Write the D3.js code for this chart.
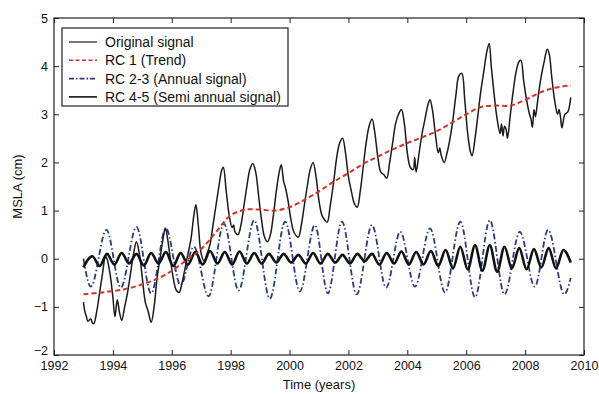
<!DOCTYPE html>
<html><head><meta charset="utf-8">
<script src="https://cdn.jsdelivr.net/npm/d3@7"></script>
<style>
body{margin:0;background:#fff;}
svg text{font-family:"Liberation Sans",Arial,sans-serif;fill:#111;}
</style></head>
<body><svg id="c" width="599" height="394"></svg>
<script>
// ---- data ----
const xTicks = [1992,1994,1996,1998,2000,2002,2004,2006,2008,2010];
const yTicks = [-2,-1,0,1,2,3,4,5];

const origTime = [1993.0,1993.05,1993.1,1993.15,1993.25,1993.3,1993.35,1993.45,1993.55,1993.65,1993.75,1993.8,1993.9,1994.0,1994.07,1994.15,1994.22,1994.3,1994.4,1994.5,1994.6,1994.7,1994.8,1994.9,1995.0,1995.1,1995.2,1995.3,1995.4,1995.5,1995.6,1995.7,1995.78,1995.85,1995.95,1996.05,1996.15,1996.25,1996.35,1996.45,1996.55,1996.65,1996.75,1996.82,1996.9,1997.0,1997.1,1997.2,1997.3,1997.4,1997.5,1997.6,1997.7,1997.75,1997.85,1997.95,1998.05,1998.1,1998.15,1998.25,1998.35,1998.45,1998.55,1998.65,1998.75,1998.85,1998.95,1999.05,1999.15,1999.25,1999.35,1999.45,1999.55,1999.65,1999.72,1999.8,1999.85,1999.95,2000.05,2000.15,2000.3,2000.4,2000.5,2000.6,2000.7,2000.8,2000.9,2001.0,2001.1,2001.2,2001.28,2001.38,2001.5,2001.6,2001.7,2001.8,2001.9,2002.0,2002.1,2002.2,2002.3,2002.4,2002.5,2002.6,2002.7,2002.8,2002.9,2003.0,2003.1,2003.2,2003.3,2003.4,2003.5,2003.6,2003.7,2003.8,2003.9,2004.0,2004.1,2004.2,2004.25,2004.3,2004.4,2004.5,2004.6,2004.7,2004.77,2004.85,2004.95,2005.05,2005.1,2005.15,2005.25,2005.35,2005.45,2005.55,2005.65,2005.75,2005.85,2005.95,2006.05,2006.15,2006.2,2006.3,2006.4,2006.5,2006.6,2006.7,2006.78,2006.85,2006.95,2007.05,2007.15,2007.2,2007.25,2007.3,2007.35,2007.4,2007.5,2007.6,2007.7,2007.8,2007.86,2007.95,2008.05,2008.15,2008.2,2008.25,2008.3,2008.35,2008.4,2008.45,2008.55,2008.65,2008.75,2008.82,2008.9,2009.0,2009.1,2009.15,2009.2,2009.25,2009.35,2009.45,2009.55];
const origValue = [-0.9,-1.1,-1.2,-1.3,-1.25,-1.33,-1.35,-1.1,-0.7,-0.3,0.05,0.0,-0.3,-0.8,-1.2,-0.85,-1.1,-1.28,-1.0,-0.7,-0.3,0.1,0.35,0.1,-0.4,-0.9,-1.1,-1.32,-1.0,-0.4,0.0,0.4,0.64,0.45,0.0,-0.4,-0.65,-0.7,-0.5,-0.2,0.1,0.4,0.9,1.12,0.7,0.1,-0.05,0.1,0.3,0.7,1.1,1.5,1.85,1.9,1.4,0.9,0.65,0.7,0.55,0.5,0.7,1.1,1.5,1.85,1.98,1.8,1.3,0.8,0.45,0.35,0.5,0.9,1.4,1.8,1.95,1.6,1.5,1.2,0.8,0.55,0.45,0.7,1.1,1.5,1.85,2.0,1.7,1.2,0.9,0.8,0.76,1.1,1.6,2.1,2.4,2.5,2.2,1.7,1.4,1.15,1.07,1.4,1.9,2.4,2.75,2.9,2.6,2.1,1.8,1.75,1.67,2.0,2.4,2.8,3.0,3.1,2.8,2.2,1.9,1.85,2.1,1.8,2.2,2.6,2.9,3.2,3.3,3.1,2.6,2.2,2.3,2.15,2.0,2.2,2.5,2.9,3.4,3.8,3.85,3.3,2.6,2.2,2.14,2.5,3.0,3.5,3.9,4.3,4.47,4.0,3.4,2.9,2.6,2.8,2.55,2.75,2.7,2.5,3.0,3.5,3.9,4.1,4.12,3.7,3.3,3.0,2.9,2.73,3.1,2.95,3.15,3.4,3.8,4.1,4.35,4.25,3.8,3.3,3.0,3.1,2.95,2.72,3.0,3.05,3.35];

const trendTime = [1993.0,1993.5,1994.0,1994.5,1995.0,1995.5,1996.0,1996.5,1997.0,1997.5,1998.0,1998.5,1999.0,1999.5,2000.0,2000.5,2001.0,2001.5,2002.0,2002.5,2003.0,2003.5,2004.0,2004.5,2005.0,2005.5,2006.0,2006.5,2007.0,2007.5,2008.0,2008.5,2009.0,2009.55];
const trendValue = [-0.74,-0.71,-0.67,-0.62,-0.53,-0.42,-0.25,-0.03,0.2,0.55,0.9,1.02,1.02,1.0,1.07,1.22,1.4,1.6,1.78,1.97,2.12,2.27,2.4,2.52,2.65,2.82,3.0,3.15,3.18,3.18,3.3,3.45,3.55,3.6];

const annualTime = [1993.0,1993.25,1993.78,1994.27,1994.8,1995.3,1995.8,1996.3,1996.75,1997.25,1997.77,1998.27,1998.8,1999.33,1999.85,2000.35,2000.86,2001.3,2001.78,2002.28,2002.8,2003.28,2003.76,2004.26,2004.77,2005.28,2005.8,2006.3,2006.8,2007.3,2007.82,2008.33,2008.78,2009.33,2009.55];
const annualValue = [0.0,-0.58,0.6,-0.6,0.66,-0.72,0.63,-0.55,0.25,-0.78,0.73,-0.66,0.8,-0.83,0.77,-0.68,0.7,-0.72,0.77,-0.74,0.7,-0.6,0.56,-0.58,0.63,-0.7,0.77,-0.8,0.8,-0.74,0.56,-0.58,0.6,-0.74,-0.4];

const semiTime = [1993.0,1993.3,1993.55,1993.8,1994.05,1994.3,1994.55,1994.8,1995.05,1995.3,1995.55,1995.8,1996.05,1996.3,1996.55,1996.8,1997.05,1997.3,1997.55,1997.8,1998.05,1998.3,1998.55,1998.8,1999.05,1999.3,1999.55,1999.8,2000.05,2000.3,2000.55,2000.8,2001.05,2001.3,2001.55,2001.8,2002.05,2002.3,2002.55,2002.8,2003.05,2003.3,2003.55,2003.8,2004.05,2004.3,2004.55,2004.8,2005.05,2005.3,2005.55,2005.8,2006.05,2006.3,2006.55,2006.8,2007.05,2007.3,2007.55,2007.8,2008.05,2008.3,2008.55,2008.8,2009.05,2009.3,2009.55];
const semiValue = [-0.18,0.05,-0.15,0.1,-0.12,0.12,-0.1,0.1,-0.14,0.12,-0.1,0.14,-0.15,0.12,-0.12,0.14,-0.12,0.16,-0.1,0.14,-0.12,0.15,-0.1,0.12,-0.1,0.1,-0.08,0.1,-0.08,0.08,-0.1,0.12,-0.1,0.1,-0.08,0.08,-0.1,0.1,-0.05,0.1,-0.12,0.12,-0.1,0.15,-0.12,0.14,-0.12,0.16,-0.15,0.18,-0.2,0.25,-0.22,0.28,-0.25,0.28,-0.27,0.25,-0.2,0.22,-0.22,0.2,-0.18,0.22,-0.2,0.18,-0.08];

const legendLabels = ["Original signal","RC 1 (Trend)","RC 2-3 (Annual signal)","RC 4-5 (Semi annual signal)"];

// ---- chart ----
const svg = d3.select("#c");
const L=54, T=18, R=584, B=355;
const x = d3.scaleLinear().domain([1992,2010]).range([L,R]);
const y = d3.scaleLinear().domain([-2,5]).range([B,T]);

svg.append("clipPath").attr("id","clip").append("rect")
  .attr("x",L).attr("y",T).attr("width",R-L).attr("height",B-T);
const g = svg.append("g").attr("clip-path","url(#clip)");

const zip = (a,b)=>a.map((t,i)=>[t,b[i]]);
const lineM = d3.line().x(d=>x(d[0])).y(d=>y(d[1])).curve(d3.curveMonotoneX);
const lineC = d3.line().x(d=>x(d[0])).y(d=>y(d[1])).curve(d3.curveCatmullRom.alpha(0.5));

const annualColor="#2c3a80", trendColor="#d2342c";

g.append("path").attr("d",lineM(zip(annualTime,annualValue)))
  .attr("fill","none").attr("stroke",annualColor).attr("stroke-width",1.8)
  .attr("stroke-dasharray","6,2.5,1.5,2.5");
g.append("path").attr("d",lineC(zip(origTime,origValue)))
  .attr("fill","none").attr("stroke","#1a1a1a").attr("stroke-width",1.5).attr("stroke-linejoin","round");
g.append("path").attr("d",lineM(zip(semiTime,semiValue)))
  .attr("fill","none").attr("stroke","#111").attr("stroke-width",2.6);
g.append("path").attr("d",lineC(zip(trendTime,trendValue)))
  .attr("fill","none").attr("stroke",trendColor).attr("stroke-width",2)
  .attr("stroke-dasharray","5,3");

// axes
const fs = 12.5;
const axB = svg.append("g").attr("transform",`translate(0,${B})`)
  .call(d3.axisBottom(x).tickValues(xTicks).tickFormat(d3.format("d")).tickSizeInner(-5).tickSizeOuter(0).tickPadding(6));
const axT = svg.append("g").attr("transform",`translate(0,${T})`)
  .call(d3.axisTop(x).tickValues(xTicks).tickFormat("").tickSizeInner(-5).tickSizeOuter(0));
const axL = svg.append("g").attr("transform",`translate(${L},0)`)
  .call(d3.axisLeft(y).tickValues(yTicks).tickFormat(d3.format("d")).tickSizeInner(-5).tickSizeOuter(0).tickPadding(6));
const axR = svg.append("g").attr("transform",`translate(${R},0)`)
  .call(d3.axisRight(y).tickValues(yTicks).tickFormat("").tickSizeInner(-5).tickSizeOuter(0));
[axB,axT,axL,axR].forEach(a=>{
  a.select(".domain").remove();
  a.selectAll("line").attr("stroke","#222");
  a.selectAll("text").style("font-size",fs+"px").attr("fill","#111").style("font-family","'Liberation Sans',Arial,sans-serif");
});
// the lowest y label sits slightly raised, as in the original figure
axL.selectAll(".tick").filter(d=>d===-2).select("text").attr("dy","-0.05em");
svg.append("rect").attr("x",L).attr("y",T).attr("width",R-L).attr("height",B-T)
  .attr("fill","none").attr("stroke","#222").attr("stroke-width",1.2);

svg.append("text").attr("x",(L+R)/2).attr("y",389).attr("text-anchor","middle")
  .style("font-size","13px").text("Time (years)");
svg.append("text").attr("transform",`translate(22,${(T+B)/2}) rotate(-90)`).attr("text-anchor","middle")
  .style("font-size","13px").text("MSLA (cm)");

// legend
const lg = svg.append("g");
lg.append("rect").attr("x",62).attr("y",28).attr("width",226).attr("height",78)
  .attr("fill","#fff").attr("stroke","#222").attr("stroke-width",1.2);
const styles = [
  {c:"#1a1a1a",w:1.2,d:null},
  {c:trendColor,w:1.6,d:"4,2.5"},
  {c:annualColor,w:1.6,d:"5,2,1.5,2"},
  {c:"#111",w:1.6,d:null}
];
legendLabels.forEach((lab,i)=>{
  const yy = 42 + i*18.3;
  lg.append("line").attr("x1",69).attr("x2",97).attr("y1",yy).attr("y2",yy)
    .attr("stroke",styles[i].c).attr("stroke-width",styles[i].w).attr("stroke-dasharray",styles[i].d);
  lg.append("text").attr("x",105).attr("y",yy+5).style("font-size","14px").text(lab);
});
</script></body></html>
